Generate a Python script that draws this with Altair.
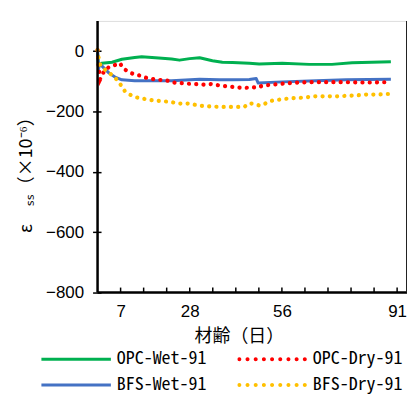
import altair as alt
import pandas as pd

series_names = ["OPC-Wet-91", "BFS-Wet-91", "OPC-Dry-91", "BFS-Dry-91"]
series_colors = ["#00B050", "#4472C4", "#FF0000", "#FFC000"]

opc_wet_day = [0, 0.3, 0.7, 1.3, 4.4, 7.4, 11.3, 13.4, 18.6, 22.5, 24.9, 28.0, 31.0, 34.9, 37.9, 41.0, 46.1, 49.1, 56.1, 64.3, 71.2, 77.3, 83.3, 89.1]
opc_wet_val = [-5, -55, -42, -40, -37, -27, -21, -19, -23, -26, -30, -25, -22, -32, -37, -38, -40, -43, -40, -44, -44, -39, -37, -35]

bfs_wet_day = [0, 0.3, 0.6, 1.3, 3.5, 5.3, 7.4, 11.3, 22.5, 31.0, 37.0, 41.0, 46.1, 48.2, 48.8, 56.1, 66.4, 75.5, 89.1]
bfs_wet_val = [5, -60, -40, -49, -73, -86, -95, -98, -98, -93, -95, -95, -94, -91, -106, -102, -98, -95, -93]

opc_dry_day = [0, 0.4, 0.8, 2.2, 3.8, 5.3, 6.8, 7.7, 9.2, 10.7, 12.2, 13.7, 15.2, 18.0, 21.0, 22.8, 25.5, 28.6, 32.5, 34.6, 37.0, 39.5, 41.6, 43.1, 44.6, 47.0, 48.5, 50.0, 52.2, 55.2, 58.2, 61.3, 64.3, 70.3, 75.5, 79.4, 83.3, 88.5]
opc_dry_val = [3, -60, -93, -62, -51, -46, -40, -56, -68, -75, -79, -84, -90, -95, -97, -104, -106, -109, -111, -109, -114, -117, -119, -121, -122, -120, -121, -115, -112, -109, -106, -104, -103, -103, -103, -104, -104, -103]

bfs_dry_day = [0, 0.4, 0.8, 1.3, 2.8, 4.4, 5.9, 7.4, 8.3, 9.8, 11.3, 13.4, 15.6, 17.4, 19.5, 21.9, 24.9, 28.0, 31.0, 34.0, 37.0, 40.0, 44.6, 45.8, 47.0, 49.1, 50.4, 51.6, 53.1, 55.2, 57.3, 59.1, 61.3, 63.4, 65.8, 73.3, 75.8, 78.5, 81.5, 84.5, 88.5]
bfs_dry_val = [3, -30, -45, -51, -68, -79, -95, -117, -133, -144, -152, -157, -161, -164, -166, -168, -174, -174, -181, -183, -185, -185, -185, -174, -174, -180, -178, -169, -164, -161, -158, -156, -155, -153, -150, -150, -148, -147, -144, -144, -142]

x_tick_values = list(range(7, 92, 7))
x_label_values = [7, 28, 56, 91]
y_tick_values = list(range(-800, 1, 100))

W, H = 311, 273


def frame(name, days, vals):
    return pd.DataFrame({"series": name, "day": days, "val": vals, "order": range(len(days))})


wet_df = pd.concat([frame("OPC-Wet-91", opc_wet_day, opc_wet_val),
                    frame("BFS-Wet-91", bfs_wet_day, bfs_wet_val)])
dry_df = pd.concat([frame("OPC-Dry-91", opc_dry_day, opc_dry_val),
                    frame("BFS-Dry-91", bfs_dry_day, bfs_dry_val)])
tick_df = pd.DataFrame({"day": x_tick_values})

wet_path = "M-1,-0.043L1,-0.043L1,0.043L-1,0.043Z"
r = 0.057
dots = ""
for k in range(9):
    cx = -0.94 + k * 0.235
    dots += f"M{cx - r:.3f},0a{r},{r} 0 1,0 {2 * r:.3f},0a{r},{r} 0 1,0 {-2 * r:.3f},0Z"
shape_range = [wet_path, wet_path, dots, dots]

color_scale = alt.Scale(domain=series_names, range=series_colors)

x_enc = alt.X("day:Q", scale=alt.Scale(domain=[0, 94], nice=False, zero=False),
              axis=alt.Axis(values=x_label_values, labelOverlap=False,
                            title="材齢（日）", titleFont="Noto Sans CJK JP", titleFontSize=18,
                            titleFontWeight="normal", titleColor="black", titlePadding=8,
                            titleX=142, titleAlign="center",
                            labelFont="Liberation Sans", labelFontSize=17, labelColor="black",
                            labelPadding=11, domain=False, grid=False, ticks=False, tickSize=0))
y_enc = alt.Y("val:Q", scale=alt.Scale(domain=[-800, 100], nice=False, zero=False),
              axis=alt.Axis(values=y_tick_values,
                            labelExpr="datum.value % 200 == 0 ? datum.label : ''",
                            labelOverlap=False,
                            title="ε　ₛₛ（×10⁻⁶）", titleFont="Noto Sans CJK JP", titleFontSize=18,
                            titleFontWeight="normal", titleColor="#000000",
                            titleX=-75, titleY=150, titleBaseline="middle",
                            labelFont="Liberation Sans", labelFontSize=17, labelColor="black",
                            labelPadding=9, domain=False, grid=False, offset=-3.5,
                            tickSize={"condition": {"test": "datum.value % 200 == 0", "value": 8.5}, "value": 3.5},
                            tickWidth=1.5, tickColor="black"))

leg = alt.Legend(orient="none", legendX=-56.6, legendY=330, columns=2,
                 clipHeight=20, symbolSize=4900, labelOffset=6,
                 columnPadding=31, rowPadding=6, padding=0, title=None,
                 labelFont="Noto Sans Mono CJK JP", labelFontSize=18,
                 labelColor="black", symbolStrokeWidth=0, symbolOpacity=1)

legend_layer = alt.Chart(dry_df).transform_filter("false").mark_point(
    filled=True, opacity=1, size=4900).encode(
    x=x_enc, y=y_enc,
    color=alt.Color("series:N", scale=color_scale, legend=leg),
    shape=alt.Shape("series:N", scale=alt.Scale(domain=series_names, range=shape_range), legend=leg))

wet = alt.Chart(wet_df).mark_line(strokeWidth=3, strokeJoin="round").encode(
    x="day:Q", y="val:Q",
    color=alt.Color("series:N", scale=color_scale, legend=None),
    detail="series:N", order="order:Q")

dry = alt.Chart(dry_df).mark_line(strokeWidth=4.2, strokeCap="round", strokeDash=[0.1, 7.2]).encode(
    x="day:Q", y="val:Q",
    color=alt.Color("series:N", scale=color_scale, legend=None),
    detail="series:N", order="order:Q")

x_ticks = alt.Chart(tick_df).mark_rule(color="black", strokeWidth=1.5).encode(
    x="day:Q", y=alt.value(H - 5), y2=alt.value(H))

one = pd.DataFrame({"k": [0]})
left_rule = alt.Chart(one).mark_rule(color="black", strokeWidth=2.5).encode(
    x=alt.value(0), y=alt.value(0), y2=alt.value(H))
bottom_rule = alt.Chart(one).mark_rule(color="black", strokeWidth=2.5).encode(
    x=alt.value(0), x2=alt.value(W), y=alt.value(H))
right_rule = alt.Chart(one).mark_rule(color="#222222", strokeWidth=2).encode(
    x=alt.value(W), y=alt.value(0), y2=alt.value(H))

chart = alt.layer(legend_layer, wet, dry, x_ticks, left_rule, bottom_rule, right_rule).properties(
    width=W, height=H,
    autosize=alt.AutoSizeParams(type="none"),
    padding={"left": 90, "top": 12, "right": 0, "bottom": 104},
).configure_view(stroke="black", strokeWidth=1).configure(background="white")

chart.save("out.html", embed_options={"renderer": "svg", "actions": False})
